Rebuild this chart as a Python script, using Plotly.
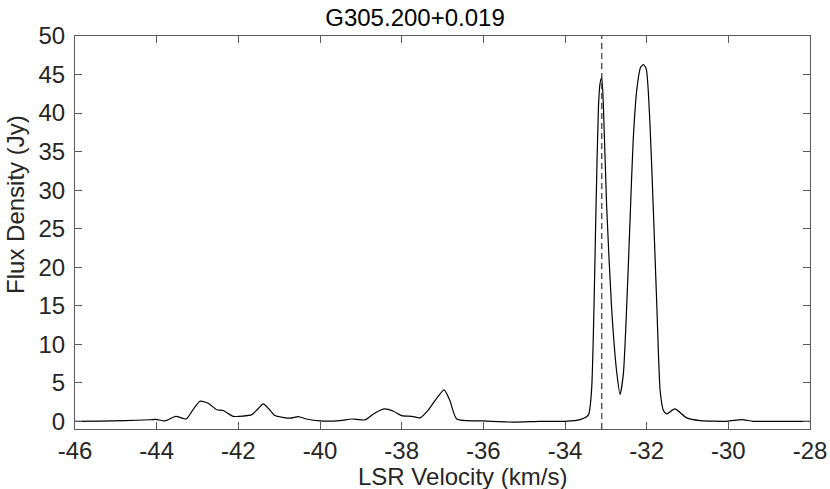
import plotly.graph_objects as go

# Spectrum (velocity in km/s, flux in Jy)
velocity = [-46.0, -45.39, -44.78, -44.16, -44.02, -43.80, -43.53, -43.28, -43.11, -42.94,
            -42.74, -42.53, -42.37, -42.12, -41.67, -41.54, -41.39, -41.25, -41.10, -40.73,
            -40.53, -40.33, -40.0, -39.51, -39.22, -38.90, -38.69, -38.43, -38.20, -38.0,
            -37.75, -37.55, -37.36, -37.18, -36.96, -36.82, -36.65, -36.0, -35.27, -34.61,
            -34.0, -33.63, -33.43, -33.35, -33.29, -33.24, -33.18, -33.14, -33.10, -33.06,
            -32.98, -32.86, -32.73, -32.65, -32.57, -32.49, -32.41, -32.33, -32.24, -32.15,
            -32.08, -32.01, -31.92, -31.84, -31.75, -31.67, -31.59, -31.51, -31.31, -31.02,
            -30.69, -30.04, -29.67, -29.39, -28.73, -28.0]
flux = [0.0, 0.02, 0.08, 0.2, 0.26, 0.05, 0.65, 0.3, 1.5, 2.6,
        2.35, 1.5, 1.4, 0.65, 0.87, 1.5, 2.26, 1.6, 0.74, 0.4,
        0.61, 0.3, 0.05, 0.09, 0.3, 0.18, 0.96, 1.6, 1.3, 0.74,
        0.65, 0.44, 1.4, 2.7, 4.09, 2.7, 0.3, 0.05, -0.1, 0.0,
        0.0, 0.22, 0.8, 4.0, 14.8, 27.9, 40.9, 43.9, 44.6, 40.9,
        27.9, 14.8, 6.2, 3.5, 6.2, 14.8, 25.7, 36.5, 43.1, 45.9,
        46.3, 45.7, 38.7, 27.9, 14.8, 4.0, 1.4, 0.96, 1.6, 0.44,
        0.09, 0.0, 0.22, 0.0, 0.0, 0.0]

marker_velocity = -33.1
title = "G305.200+0.019"
x_title = "LSR Velocity (km/s)"
y_title = "Flux Density (Jy)"

x_ticks = [-46, -44, -42, -40, -38, -36, -34, -32, -30, -28]
x_labels = ["-46", "-44", "-42", "-40", "-38", "-36", "-34", "-32", "-30", "-28"]
y_ticks = [0, 5, 10, 15, 20, 25, 30, 35, 40, 45, 50]

axis_color = "#5a5a5a"
font = dict(family="Liberation Sans, Arial, sans-serif", size=24, color="#262626")

fig = go.Figure()

fig.add_trace(go.Scatter(x=velocity, y=flux, mode="lines",
                         line=dict(color="black", width=1.2, shape="spline", smoothing=0.6),
                         showlegend=False))

# vertical dashed marker
fig.add_trace(go.Scatter(x=[marker_velocity, marker_velocity], y=[-1, 50], mode="lines",
                         line=dict(color="#444444", width=1.3, dash="6px,4px"), showlegend=False))

fig.update_layout(
    width=830, height=489,
    margin=dict(l=75, r=20, t=36, b=60, autoexpand=False),
    paper_bgcolor="white", plot_bgcolor="white",
    font=font,
    title=dict(text=title, x=0.5, xanchor="center", y=0.963, yanchor="middle",
               font=dict(size=24, color="black")),
)

# axis labels sit slightly off-centre in the original, so place them as annotations
fig.add_annotation(text=x_title, xref="paper", yref="paper", x=0.527, y=-0.122,
                   xanchor="center", yanchor="middle", showarrow=False,
                   font=dict(size=24, color="#262626"))
fig.add_annotation(text=y_title, xref="paper", yref="paper", x=-0.082, y=0.572,
                   xanchor="center", yanchor="middle", textangle=-90, showarrow=False,
                   font=dict(size=24, color="#262626"))

fig.update_xaxes(range=[-46, -28], tickvals=x_ticks, ticktext=x_labels, automargin=False,
                 showgrid=False, zeroline=False, showline=True, linecolor=axis_color,
                 linewidth=1, mirror="ticks", ticks="inside", ticklen=7, tickcolor=axis_color)
fig.update_yaxes(range=[-1, 50], tickvals=y_ticks, automargin=False, ticklabelstandoff=4,
                 showgrid=False, zeroline=False, showline=True, linecolor=axis_color,
                 linewidth=1, mirror="ticks", ticks="inside", ticklen=7, tickcolor=axis_color)

# drop the default 8px page margin so the figure fills the window exactly
fig.write_html("out.html", config={"displayModeBar": False},
               post_script="document.body.style.margin='0px';")
